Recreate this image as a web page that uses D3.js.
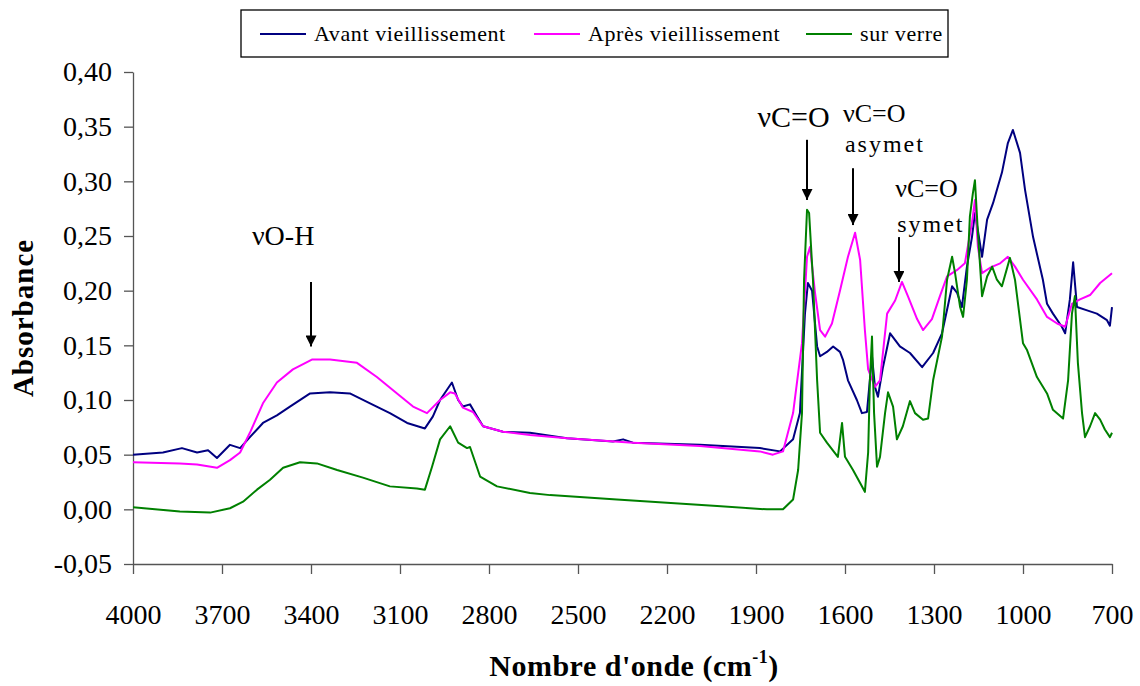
<!DOCTYPE html>
<html>
<head>
<meta charset="utf-8">
<script src="https://cdn.jsdelivr.net/npm/d3@7"></script>
<style>
  body { margin: 0; background: #fff; }
  svg { display: block; font-family: "Liberation Serif", "Times New Roman", serif; }
</style>
</head>
<body>
<div id="chart"></div>
<script>
// wavenumbers (cm-1) and absorbance
const avantWn  = [4000,3899,3835,3784,3747,3717,3673,3639,3606,3562,3515,3471,3403,3336,3269,3201,3134,3076,3016,2989,2965,2925,2904,2888,2864,2840,2820,2753,2662,2537,2382,2348,2315,2089,1887,1819,1775,1752,1735,1725,1711,1694,1684,1661,1640,1617,1607,1590,1560,1543,1526,1509,1499,1489,1472,1448,1415,1381,1340,1303,1273,1239,1222,1206,1189,1172,1162,1152,1138,1121,1101,1071,1051,1034,1010,993,966,933,919,899,869,858,842,831,818,784,751,717,707,700];
const avantAbs = [0.050,0.052,0.056,0.052,0.054,0.047,0.059,0.056,0.066,0.079,0.086,0.094,0.106,0.107,0.106,0.097,0.088,0.079,0.074,0.085,0.100,0.116,0.100,0.094,0.096,0.085,0.076,0.071,0.070,0.065,0.062,0.064,0.061,0.059,0.056,0.053,0.064,0.088,0.179,0.207,0.200,0.149,0.140,0.144,0.149,0.144,0.137,0.118,0.100,0.088,0.089,0.140,0.112,0.103,0.130,0.161,0.149,0.143,0.130,0.143,0.161,0.204,0.198,0.185,0.222,0.249,0.271,0.255,0.231,0.265,0.280,0.308,0.335,0.347,0.326,0.292,0.249,0.210,0.188,0.179,0.167,0.161,0.192,0.226,0.185,0.182,0.179,0.173,0.168,0.185];

const apresWn  = [4000,3842,3784,3717,3673,3639,3606,3562,3515,3461,3397,3336,3245,3178,3110,3056,3009,2965,2931,2915,2888,2854,2820,2753,2662,2537,2315,2089,1887,1843,1809,1775,1745,1728,1718,1701,1684,1667,1644,1617,1590,1566,1549,1533,1522,1499,1482,1458,1431,1408,1388,1357,1337,1307,1280,1256,1222,1196,1172,1162,1152,1138,1111,1077,1051,1027,1000,953,919,885,858,835,808,774,740,700];
const apresAbs = [0.043,0.042,0.041,0.038,0.045,0.052,0.070,0.097,0.116,0.128,0.137,0.137,0.134,0.121,0.106,0.094,0.088,0.100,0.107,0.106,0.093,0.089,0.076,0.071,0.068,0.065,0.061,0.058,0.053,0.050,0.053,0.088,0.152,0.231,0.240,0.198,0.164,0.158,0.170,0.200,0.231,0.253,0.228,0.164,0.128,0.112,0.118,0.179,0.191,0.208,0.195,0.174,0.164,0.174,0.195,0.213,0.219,0.225,0.262,0.283,0.240,0.216,0.221,0.225,0.231,0.222,0.210,0.192,0.176,0.170,0.167,0.188,0.192,0.196,0.207,0.216];

const verreWn  = [4000,3842,3740,3673,3629,3582,3538,3494,3437,3380,3312,3225,3134,3043,3016,2992,2965,2931,2904,2874,2864,2830,2773,2662,2594,2369,2200,2031,1863,1809,1775,1758,1745,1738,1728,1721,1708,1694,1684,1661,1624,1610,1600,1573,1549,1533,1522,1516,1509,1502,1492,1482,1465,1455,1438,1425,1405,1381,1364,1337,1320,1303,1273,1256,1239,1229,1212,1202,1189,1179,1169,1162,1152,1138,1121,1104,1088,1071,1044,1027,1000,987,953,919,899,865,848,835,825,815,801,791,774,757,740,724,707,700];
const verreAbs = [0.002,-0.002,-0.003,0.001,0.007,0.018,0.027,0.038,0.043,0.042,0.036,0.029,0.021,0.019,0.018,0.039,0.064,0.076,0.061,0.056,0.057,0.030,0.021,0.015,0.013,0.009,0.006,0.003,0.000,0.000,0.009,0.036,0.088,0.210,0.274,0.271,0.210,0.118,0.070,0.061,0.048,0.079,0.048,0.036,0.024,0.016,0.052,0.118,0.158,0.088,0.039,0.048,0.088,0.107,0.094,0.064,0.076,0.099,0.088,0.082,0.083,0.118,0.158,0.210,0.231,0.216,0.185,0.176,0.210,0.268,0.289,0.301,0.253,0.195,0.213,0.222,0.210,0.204,0.230,0.210,0.152,0.146,0.121,0.106,0.091,0.083,0.118,0.179,0.195,0.134,0.088,0.066,0.076,0.088,0.082,0.073,0.066,0.070];

const seriesNames = ["Avant vieillissement", "Après vieillissement", "sur verre"];
const seriesColors = ["#000080", "#ff00ff", "#008000"];

const xTicks = [4000,3700,3400,3100,2800,2500,2200,1900,1600,1300,1000,700];
const yTicks = [-0.05,0,0.05,0.10,0.15,0.20,0.25,0.30,0.35,0.40];

// band annotations: text lines anchored at (wn, abs), arrow at wn from abs to abs
const annotations = [
  {lines: ["νO-H"], wn: 3599, abs: [0.242], size: 28, arrow: {wn: 3400, from: 0.208, to: 0.149}},
  {lines: ["νC=O"], wn: 1895, abs: [0.350], size: 30, arrow: {wn: 1728, from: 0.338, to: 0.283}},
  {lines: ["νC=O", "asymet"], wn: 1607, abs: [0.354, 0.327], size: 26, arrow: {wn: 1573, from: 0.312, to: 0.260}},
  {lines: ["νC=O", "symet"], wn: 1431, abs: [0.286, 0.254], size: 26, arrow: {wn: 1418, from: 0.249, to: 0.208}}
];

const width = 1140, height = 686;
const margin = {left: 133, right: 28, top: 72, bottom: 122};

const svg = d3.select("#chart").append("svg")
  .attr("width", width).attr("height", height);

svg.append("defs").append("marker")
  .attr("id", "arrowhead")
  .attr("viewBox", "0 0 10 10")
  .attr("refX", 10).attr("refY", 5)
  .attr("markerWidth", 11).attr("markerHeight", 11)
  .attr("markerUnits", "userSpaceOnUse")
  .attr("orient", "auto")
  .append("path").attr("d", "M0,0 L10,5 L0,10 Z").attr("fill", "#000");

const x = d3.scaleLinear().domain([4000, 700]).range([margin.left, width - margin.right]);
const y = d3.scaleLinear().domain([-0.05, 0.40]).range([height - margin.bottom, margin.top]);

const fmt = v => d3.format(".2f")(v).replace(".", ",").replace("−", "-");

// axes
const yAxis = svg.append("g")
  .attr("transform", `translate(${margin.left},0)`)
  .call(d3.axisLeft(y).tickValues(yTicks).tickFormat(fmt).tickSize(9).tickSizeOuter(0).tickPadding(12));

const xAxis = svg.append("g")
  .attr("transform", `translate(0,${height - margin.bottom})`)
  .call(d3.axisBottom(x).tickValues(xTicks).tickFormat(d3.format("d")).tickSize(10).tickSizeOuter(0));

svg.selectAll(".tick line, .domain").attr("stroke", "#555").attr("stroke-width", 1.3);
yAxis.selectAll("text").attr("font-size", 28).attr("fill", "#000").attr("font-family", "Liberation Serif");
xAxis.selectAll("text").attr("font-size", 28).attr("fill", "#000").attr("font-family", "Liberation Serif")
  .attr("y", 60).attr("dy", 0);

// axis titles
svg.append("text")
  .attr("transform", `translate(33,${(margin.top + height - margin.bottom) / 2}) rotate(-90)`)
  .attr("text-anchor", "middle")
  .attr("font-size", 29).attr("font-weight", "bold")
  .attr("letter-spacing", 1)
  .text("Absorbance");

const xt = svg.append("text")
  .attr("x", 634).attr("y", 676)
  .attr("text-anchor", "middle")
  .attr("font-size", 30).attr("font-weight", "bold")
  .attr("letter-spacing", 0.5);
xt.append("tspan").text("Nombre d'onde (cm");
xt.append("tspan").attr("font-size", 18).attr("dy", -13).text("-1");
xt.append("tspan").attr("dy", 13).text(")");

// spectra
const seriesData = [
  d3.zip(avantWn, avantAbs),
  d3.zip(apresWn, apresAbs),
  d3.zip(verreWn, verreAbs)
];

const line = d3.line().x(d => x(d[0])).y(d => y(d[1]));

svg.append("g").selectAll("path")
  .data(seriesData)
  .join("path")
  .attr("d", line)
  .attr("fill", "none")
  .attr("stroke", (d, i) => seriesColors[i])
  .attr("stroke-width", 2)
  .attr("stroke-linejoin", "round");

// annotations
annotations.forEach(a => {
  a.lines.forEach((t, j) => {
    svg.append("text")
      .attr("x", x(a.wn) + (j === 0 ? 0 : 2)).attr("y", y(a.abs[j]))
      .attr("font-size", j === 0 ? a.size : 24)
      .attr("letter-spacing", j === 0 ? 0 : 2)
      .text(t);
  });
  svg.append("line")
    .attr("x1", x(a.arrow.wn)).attr("x2", x(a.arrow.wn))
    .attr("y1", y(a.arrow.from)).attr("y2", y(a.arrow.to))
    .attr("stroke", "#000").attr("stroke-width", 2)
    .attr("marker-end", "url(#arrowhead)");
});

// legend
const legend = svg.append("g");
legend.append("rect")
  .attr("x", 241).attr("y", 10).attr("width", 707).attr("height", 47)
  .attr("fill", "#fff").attr("stroke", "#000").attr("stroke-width", 1.3);

const legendX = [260, 534, 806];
seriesNames.forEach((name, i) => {
  legend.append("line")
    .attr("x1", legendX[i]).attr("x2", legendX[i] + 46)
    .attr("y1", 34).attr("y2", 34)
    .attr("stroke", seriesColors[i]).attr("stroke-width", 2);
  legend.append("text")
    .attr("x", legendX[i] + 54).attr("y", 41)
    .attr("font-size", 22)
    .attr("letter-spacing", 0.6)
    .text(name);
});
</script>
</body>
</html>
